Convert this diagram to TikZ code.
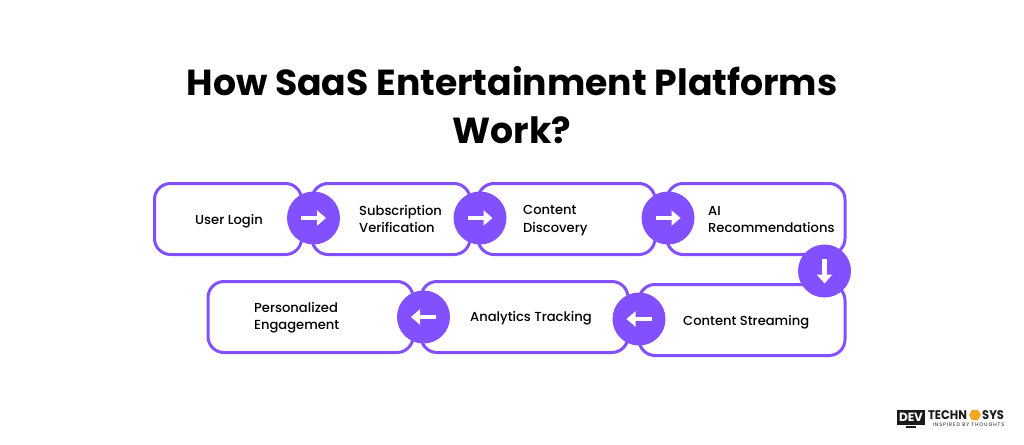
\documentclass[tikz,border=0pt]{standalone}
\usepackage{fontspec}
\setmainfont{Poppins}
\newfontfamily\mediumfont{Poppins Medium}
\usetikzlibrary{arrows.meta,shapes.geometric}
\definecolor{flowPurple}{HTML}{8350FF}
\definecolor{logoOrange}{HTML}{F5A623}
\definecolor{logoBlack}{HTML}{1A1A1A}

\begin{document}
\begin{tikzpicture}
[x=1pt,y=-1pt,
  boxDecorate/.style={shape=rectangle,draw=flowPurple,line width=3pt,rounded corners=16pt,inner sep=0pt},
  circleDecorate/.style={shape=circle,fill=flowPurple,minimum size=53pt,inner sep=0pt},
  arrowDecorate/.style={-{Triangle[length=9pt,width=15pt]},draw=white,line width=4.5pt},
  labelDecorate/.style={anchor=west,align=left,inner sep=0pt,font=\fontsize{13.1}{17.5}\selectfont\mediumfont},
  titleDecorate/.style={align=center,inner sep=0pt,font=\fontsize{36.2}{48}\selectfont\bfseries},
  logoDecorate/.style={anchor=west,inner sep=0pt,text=logoBlack,transform shape,xscale=.92,font=\fontsize{12.5}{12.5}\selectfont\bfseries}]
\useasboundingbox (0,0) rectangle (1024,444);
\fill[white] (0,0) rectangle (1024,444);
%% title
\node (title) at (512,105) [titleDecorate] {How SaaS Entertainment Platforms\\Work?};
%% boxes
\foreach \nodename/\x/\y/\w/\h in {
  boxLogin/228/219/147/71,
  boxVerify/391/219/158/71,
  boxDiscovery/566.5/219/177/71,
  boxRecommend/756/219/178/71,
  boxStreaming/742/320/206/71,
  boxTracking/524.5/317/207/71,
  boxEngage/310.5/317/205/71}
{
  \node (\nodename) at (\x,\y) [boxDecorate,minimum width=\w pt,minimum height=\h pt] {};
}
%% labels
\foreach \nodename/\x/\y/\txt in {
  textLogin/195/221/User Login,
  textVerify/359/219/{Subscription\\Verification},
  textDiscovery/523/220.5/{Content\\Discovery},
  textRecommend/708/219.5/{AI\\Recommendations},
  textStreaming/683/322/Content Streaming,
  textTracking/470/318/Analytics Tracking,
  textEngage/254/317.5/{Personalized\\Engagement}}
{
  \node (\nodename) at (\x,\y) [labelDecorate] {\txt};
}
%% circles with arrows
\foreach \nodename/\x/\y/\dx/\dy in {
  circleA/313.5/218/12.5/0,
  circleB/480/218/12.5/0,
  circleC/668/218/12.5/0,
  circleD/824.5/271/0/12.5,
  circleE/639/319/-12.5/0,
  circleF/423.5/317/-12.5/0}
{
  \node (\nodename) at (\x,\y) [circleDecorate] {};
  \draw[arrowDecorate] ([xshift=-\dx pt,yshift=\dy pt]\nodename.center) -- ([xshift=\dx pt,yshift=-\dy pt]\nodename.center);
}
%% logo
\node (logoScreen) at (911,417) [shape=rectangle,fill=logoBlack,minimum width=28pt,minimum height=15pt,inner sep=0pt,text=white,font=\fontsize{12}{12}\selectfont\bfseries] {DEV};
\node (logoStand) at (911,426.5) [shape=rectangle,fill=logoBlack,minimum width=10pt,minimum height=2pt,inner sep=0pt] {};
\node (logoTech) at (928,415) [logoDecorate] {TECHN};
\node (logoHex) at (975,415) [shape=regular polygon,regular polygon sides=6,fill=logoOrange,minimum size=12pt,inner sep=0pt] {};
\node (logoSys) at (982,415) [logoDecorate] {SYS};
\node (logoTag) at (968.5,424.5) [inner sep=0pt,text=logoBlack,font=\fontsize{5}{5}\selectfont\addfontfeature{LetterSpace=18}] {INSPIRED BY THOUGHTS};
\end{tikzpicture}
\end{document}
